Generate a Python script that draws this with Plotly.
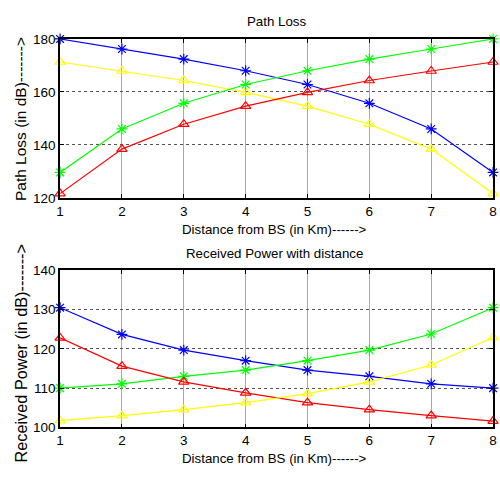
import plotly.graph_objects as go

distance = [1, 2, 3, 4, 5, 6, 7, 8]

# Path loss (dB)
pl_blue = [180.0, 176.2, 172.4, 168.0, 162.8, 155.7, 146.0, 129.6]
pl_yellow = [171.3, 167.9, 164.3, 159.8, 154.6, 147.8, 138.4, 121.6]
pl_green = [129.6, 146.0, 155.7, 162.8, 168.0, 172.4, 176.2, 180.0]
pl_red = [121.6, 138.4, 147.8, 154.6, 159.8, 164.3, 167.9, 171.3]

# Received power (dB)
rp_blue = [130.5, 123.7, 119.7, 117.0, 114.6, 113.0, 111.1, 110.0]
rp_green = [110.0, 111.1, 113.0, 114.6, 117.0, 119.7, 123.8, 130.5]
rp_red = [122.8, 115.6, 111.6, 108.8, 106.3, 104.5, 103.0, 101.6]
rp_yellow = [101.7, 103.0, 104.5, 106.3, 108.6, 111.6, 115.9, 122.9]

x_ticks = [1, 2, 3, 4, 5, 6, 7, 8]
pl_ticks = [120, 140, 160, 180]
rp_ticks = [100, 110, 120, 130, 140]

FONT = "Liberation Sans, Arial, sans-serif"

fig = go.Figure()

def add(x, y, color, symbol, xa, ya):
    fig.add_trace(go.Scatter(
        x=x, y=y, mode="lines+markers", xaxis=xa, yaxis=ya,
        line=dict(color=color, width=1.2),
        marker=dict(symbol=symbol, size=9, color=color,
                    line=dict(color=color, width=1.2)),
        showlegend=False, cliponaxis=False))

add(distance, pl_blue, "#0000ff", "asterisk-open", "x", "y")
add(distance, pl_yellow, "#ffff00", "triangle-up-open", "x", "y")
add(distance, pl_green, "#00ff00", "asterisk-open", "x", "y")
add(distance, pl_red, "#ff0000", "triangle-up-open", "x", "y")

add(distance, rp_blue, "#0000ff", "asterisk-open", "x2", "y2")
add(distance, rp_green, "#00ff00", "asterisk-open", "x2", "y2")
add(distance, rp_red, "#ff0000", "triangle-up-open", "x2", "y2")
add(distance, rp_yellow, "#ffff00", "triangle-up-open", "x2", "y2")

xd = [57/500, 497/500]
top_d = [1 - 197/477, 1 - 33/477]
bot_d = [1 - 434/477, 1 - 272/477]

xcommon = dict(range=[1, 8], tickvals=x_ticks, ticks="inside", ticklen=4,
               tickcolor="black", mirror="allticks", showline=True,
               linecolor="black", linewidth=1.5, showgrid=True,
               gridcolor="#a8a8a8", gridwidth=1, zeroline=False,
               ticklabeloverflow="allow",
               tickfont=dict(family=FONT, size=13.5, color="black"), domain=xd)
ycommon = dict(ticks="inside", ticklen=4, tickcolor="black", mirror="allticks",
               showline=True, linecolor="black", linewidth=1.5, showgrid=True,
               gridcolor="#555555", griddash="dot", gridwidth=1, zeroline=False,
               ticklabeloverflow="allow",
               tickfont=dict(family=FONT, size=13.5, color="black"))

fig.update_layout(
    width=500, height=477, margin=dict(l=0, r=0, t=0, b=0),
    paper_bgcolor="white", plot_bgcolor="white",
    xaxis=dict(**xcommon, anchor="y"),
    yaxis=dict(**ycommon, range=[120, 180], tickvals=pl_ticks, domain=top_d, anchor="x"),
    xaxis2=dict(**xcommon, anchor="y2"),
    yaxis2=dict(**ycommon, range=[100, 140], tickvals=rp_ticks, domain=bot_d, anchor="x2"),
)

def ann(text, x, y, angle=0, size=13.3):
    fig.add_annotation(text=text, x=x, y=y, xref="paper", yref="paper",
                       showarrow=False, textangle=angle,
                       font=dict(family=FONT, size=size, color="black"),
                       xanchor="center", yanchor="middle")

ann("Path Loss", 277/500, 1 - 15/477)
ann("Distance from BS (in Km)------>", 275/500, 1 - 230/477)
ann("Path Loss (in dB)------->", 17/500, 1 - 116/477, -90, 15.5)
ann("Received Power with distance", 275/500, 1 - 254/477)
ann("Distance from BS (in Km)------>", 275/500, 1 - 466/477)
ann("Received Power (in dB)------->", 17/500, 1 - 357/477, -90, 16.3)

fig.write_html("out.html")
